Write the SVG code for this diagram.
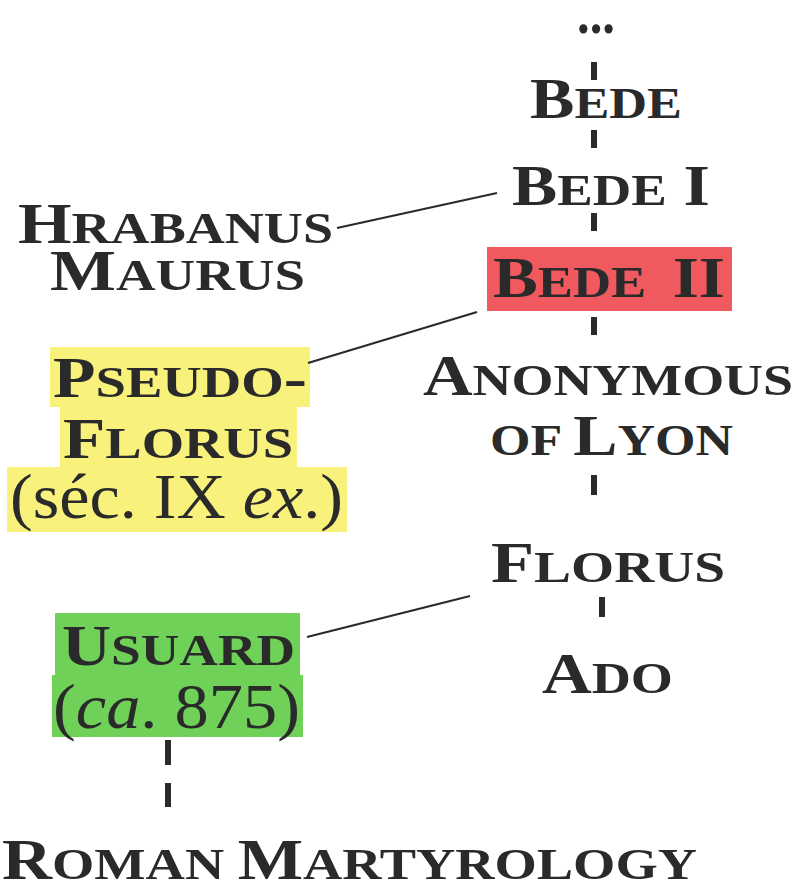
<svg xmlns="http://www.w3.org/2000/svg" width="798" height="881" viewBox="0 0 798 881">
  <style>
    text { font-family: "Liberation Serif", "Times New Roman", serif; fill: #2a2a2a; }
    .nm { font-weight: bold; font-size: 56px; }
    .sc { font-size: 44px; }
    .note { font-weight: normal; font-size: 63px; }
    .it { font-style: italic; }
    .dash { stroke: #2a2a2a; stroke-width: 6; }
    .link { stroke: #2a2a2a; stroke-width: 2.2; fill: none; }
  </style>

  <rect width="798" height="881" fill="#ffffff"/>

  <!-- highlight backgrounds -->
  <rect id="bede2-bg" x="487" y="247" width="245" height="64" fill="#f05a5e"/>
  <path id="pseudoflorus-bg" d="M50 347 H310 V407 H297 V467 H347 V532 H7 V467 H60 V407 H50 Z" fill="#f8f27c"/>
  <path id="usuard-bg" d="M55 613 H300 V675 H303 V737 H52 V675 H55 Z" fill="#6fd158"/>

  <!-- connectors -->
  <g id="connectors">
    <line class="dash" x1="594" y1="62" x2="594" y2="80"/>
    <line class="dash" x1="594" y1="130" x2="594" y2="148"/>
    <line class="dash" x1="594" y1="213" x2="594" y2="231"/>
    <line class="dash" x1="594" y1="317" x2="594" y2="335"/>
    <line class="dash" x1="594" y1="475" x2="594" y2="495"/>
    <line class="dash" x1="602" y1="597" x2="602" y2="617"/>
    <line class="dash" x1="168" y1="740" x2="168" y2="765"/>
    <line class="dash" x1="168" y1="783" x2="168" y2="807"/>
    <line class="link" x1="337" y1="228" x2="497" y2="193"/>
    <line class="link" x1="308" y1="363" x2="477" y2="312"/>
    <line class="link" x1="307" y1="637" x2="470" y2="596"/>
  </g>

  <g id="ellipsis">
    <text class="nm" x="577" y="33" font-size="48" textLength="38" lengthAdjust="spacingAndGlyphs">...</text>
  </g>

  <g id="bede">
    <text class="nm" x="530" y="118" textLength="152" lengthAdjust="spacingAndGlyphs">B<tspan class="sc">EDE</tspan></text>
  </g>

  <g id="bede-1">
    <text class="nm" x="512" y="205" textLength="198" lengthAdjust="spacingAndGlyphs">B<tspan class="sc">EDE</tspan> I</text>
  </g>

  <g id="bede-2">
    <text class="nm" x="493" y="297" textLength="232" lengthAdjust="spacingAndGlyphs" xml:space="preserve">B<tspan class="sc">EDE  </tspan>II</text>
  </g>

  <g id="anonymous-of-lyon">
    <text class="nm" x="423" y="395" textLength="370" lengthAdjust="spacingAndGlyphs">A<tspan class="sc">NONYMOUS</tspan></text>
    <text class="nm" x="490" y="455" textLength="243" lengthAdjust="spacingAndGlyphs"><tspan class="sc">OF </tspan>L<tspan class="sc">YON</tspan></text>
  </g>

  <g id="florus">
    <text class="nm" x="491" y="582" textLength="234" lengthAdjust="spacingAndGlyphs">F<tspan class="sc">LORUS</tspan></text>
  </g>

  <g id="ado">
    <text class="nm" x="542" y="693" textLength="131" lengthAdjust="spacingAndGlyphs">A<tspan class="sc">DO</tspan></text>
  </g>

  <g id="hrabanus-maurus">
    <text class="nm" x="18" y="243" textLength="315" lengthAdjust="spacingAndGlyphs">H<tspan class="sc">RABANUS</tspan></text>
    <text class="nm" x="50" y="290" textLength="255" lengthAdjust="spacingAndGlyphs">M<tspan class="sc">AURUS</tspan></text>
  </g>

  <g id="pseudo-florus">
    <text class="nm" x="53" y="397" textLength="254" lengthAdjust="spacingAndGlyphs">P<tspan class="sc">SEUDO</tspan>-</text>
    <text class="nm" x="63" y="458" textLength="230" lengthAdjust="spacingAndGlyphs">F<tspan class="sc">LORUS</tspan></text>
    <text class="note" x="10" y="518" textLength="333" lengthAdjust="spacingAndGlyphs">(séc. IX <tspan class="it">ex</tspan>.)</text>
  </g>

  <g id="usuard">
    <text class="nm" x="62" y="665" textLength="233" lengthAdjust="spacingAndGlyphs">U<tspan class="sc">SUARD</tspan></text>
    <text class="note" x="53" y="728" textLength="247" lengthAdjust="spacingAndGlyphs">(<tspan class="it">ca</tspan>. 875)</text>
  </g>

  <g id="roman-martyrology">
    <text class="nm" x="2" y="879" textLength="695" lengthAdjust="spacingAndGlyphs">R<tspan class="sc">OMAN </tspan>M<tspan class="sc">ARTYROLOGY</tspan></text>
  </g>
</svg>
